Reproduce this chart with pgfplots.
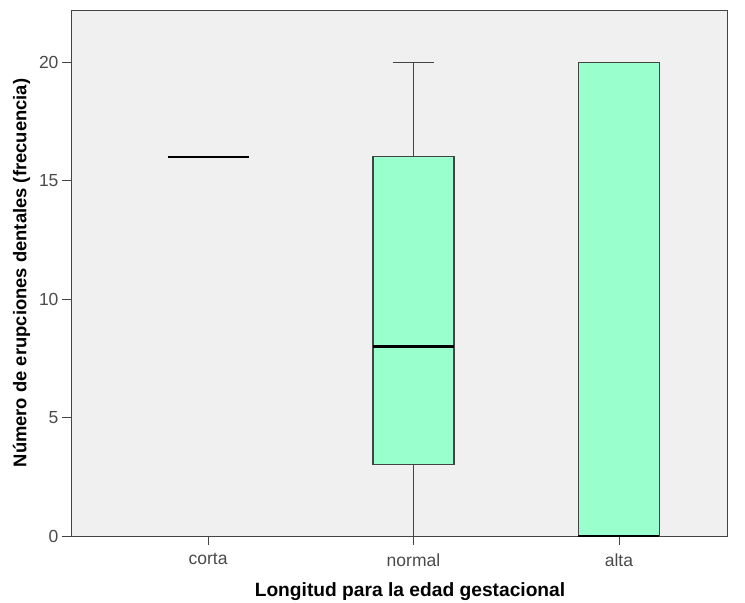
\documentclass[border=0pt]{standalone}
\usepackage{pgfplots}
\pgfplotsset{compat=1.18}
\usepgfplotslibrary{statistics}
\usepackage{fontspec}
\setmainfont{Liberation Sans}
\definecolor{boxg}{HTML}{99FFCC}
\definecolor{bgc}{HTML}{F0F0F0}
\definecolor{axc}{HTML}{444444}
\definecolor{tkc}{HTML}{4A4A4A}
\begin{document}
\begin{tikzpicture}
\begin{axis}[
  at={(0,0)}, anchor=south west,
  scale only axis, width=656bp, height=526bp,
  xmin=0.333, xmax=3.526, ymin=0, ymax=22.2,
  clip=false,
  axis background/.style={fill=bgc},
  axis line style={axc, line width=0.9pt},
  xtick={1,2,3}, xticklabels={corta,normal,alta},
  ytick={0,5,10,15,20},
  tick align=outside, tick pos=left,
  major tick length=9bp,
  tick style={axc, line width=0.8pt},
  ticklabel style={font=\fontsize{17.5bp}{20bp}\selectfont, text=tkc},
  xticklabel style={yshift=-5bp},
  /pgf/number format/assume math mode=true,
  xlabel={\bfseries Longitud para la edad gestacional},
  ylabel={\bfseries Número de erupciones dentales (frecuencia)},
  xlabel style={font=\fontsize{19.2bp}{22bp}\selectfont, yshift=-9bp, xshift=11bp},
  ylabel style={font=\fontsize{18.4bp}{22bp}\selectfont, yshift=2bp},
  boxplot/draw direction=y,
  boxplot/box extend=0.394,
  boxplot/whisker extend=0.2,
  boxplot/every box/.style={draw=axc, fill=boxg, line width=1.1pt},
  boxplot/every whisker/.style={draw=axc, line width=1pt},
  boxplot/every median/.style={draw=black, line width=2.2pt},
]
\addplot[mark=none, boxplot prepared={draw position=1, lower whisker=16, lower quartile=16, median=16, upper quartile=16, upper whisker=16}, boxplot/every box/.style={draw=none, fill=none}, boxplot/every whisker/.style={draw=none}] coordinates {};
\addplot[mark=none, boxplot prepared={draw position=2, lower whisker=0, lower quartile=3, median=8, upper quartile=16, upper whisker=20}] coordinates {};
\addplot[mark=none, boxplot prepared={draw position=3, lower whisker=0, lower quartile=0, median=0, upper quartile=20, upper whisker=20}, boxplot/every whisker/.style={draw=none}] coordinates {};
\end{axis}
\pgfresetboundingbox
\path[use as bounding box] (-71bp,-67bp) rectangle (674bp,536bp);
\end{tikzpicture}
\end{document}
